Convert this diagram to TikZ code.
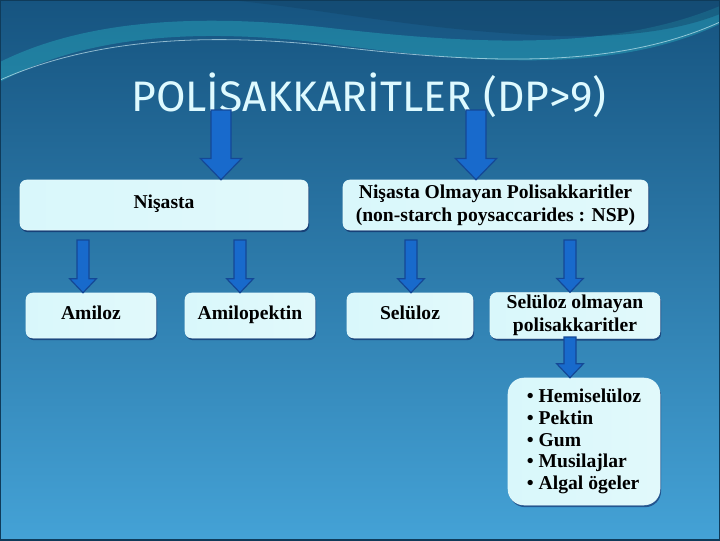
\documentclass[tikz,border=0pt]{standalone}
\usepackage{fontspec}
\setmainfont{Liberation Serif}
\newfontfamily\titlefont{Fira Sans}
\usepackage{tikz}
\usetikzlibrary{calc,shadows}

\definecolor{bgtop}{RGB}{22,84,128}
\definecolor{bgmid}{RGB}{42,122,172}
\definecolor{bgbot}{RGB}{68,162,214}
\definecolor{swoosh}{RGB}{40,170,190}
\definecolor{titlecyan}{RGB}{222,250,255}
\definecolor{boxcyan}{RGB}{170,238,245}
\definecolor{arrowblue}{RGB}{24,106,204}
\definecolor{arrowedge}{RGB}{20,72,150}

\tikzset{
  box/.style={rounded corners=5pt, left color=white!55!boxcyan, middle color=boxcyan, right color=white!65!boxcyan, draw=white!70!boxcyan, line width=0.4pt,
    drop shadow={shadow xshift=0.8pt, shadow yshift=-1.6pt, opacity=0.45, fill=black!75!blue},
    font=\bfseries\fontsize{14.7}{17}\selectfont, align=center, inner sep=2pt},
  oneline/.style={text height=1.5ex, text depth=0.25ex},
  arrowfill/.style={fill=arrowblue, draw=arrowedge, line width=0.9pt, line join=miter}
}

% block arrow: start, end, shaft half width, head half width, head length
\newcommand{\blockarr}[5]{%
  \filldraw[arrowfill] let \p1=(#1), \p2=(#2) in
    (\x1-#3,\y1) -- (\x1-#3,\y2+#5) -- (\x1-#4,\y2+#5) -- (\x1,\y2) -- (\x1+#4,\y2+#5) -- (\x1+#3,\y2+#5) -- (\x1+#3,\y1) -- cycle;}

\begin{document}
\begin{tikzpicture}[x=0.75pt,y=-0.75pt]
	\useasboundingbox (0,0) rectangle (720,540);
	
	%Background
	\shade[top color=bgtop, middle color=bgmid, bottom color=bgbot] (0,0) rectangle (720,540);
	%Shape: Swoosh
	\fill[swoosh, opacity=0.45] (0,82) .. controls (80,38) and (190,26) .. (330,44) .. controls (470,62) and (610,76) .. (720,24) -- (720,6) .. controls (610,52) and (470,44) .. (330,28) .. controls (190,12) and (80,22) .. (0,62) -- cycle ;
	\fill[bgtop!80!black, opacity=0.45] (230,0) .. controls (330,10) and (430,32) .. (560,36) .. controls (640,38) and (690,26) .. (720,14) -- (720,0) -- cycle ;
	\draw[titlecyan, opacity=0.6, line width=0.6pt] (0,80) .. controls (90,40) and (200,32) .. (330,46) .. controls (470,62) and (610,72) .. (720,22) ;
	\draw[bgtop!70!black, line width=1.2pt] (0,0) rectangle (720,540);
	
	% Text Node
	\node (title) at (369,95) [text=titlecyan, font=\titlefont\fontsize{32}{32}\selectfont] {POLİSAKKARİTLER (DP>9)};
	
	% Boxes
	\node (nis) at (164,205) [box, oneline, minimum width=216pt, minimum height=37.5pt] {Nişasta};
	\node (nsp) at (495.5,205) [box, minimum width=228.75pt, minimum height=37.5pt] {Nişasta Olmayan Polisakkaritler\\(non-starch poysaccarides : NSP)};
	\node (amiloz) at (91,315.5) [box, oneline, minimum width=97.5pt, minimum height=33.75pt] {Amiloz};
	\node (amilo) at (250,315.5) [box, oneline, minimum width=97.5pt, minimum height=33.75pt] {Amilopektin};
	\node (sel) at (410,315.5) [box, oneline, minimum width=94.5pt, minimum height=33.75pt] {Selüloz};
	\node (selo) at (575,315.5) [box, minimum width=127.5pt, minimum height=33.75pt] {Selüloz olmayan\\polisakkaritler};
	\node (list) at (584,441.5) [box, rounded corners=12pt, align=left, minimum width=114pt, minimum height=95.25pt, font=\bfseries\fontsize{14.7}{16.3}\selectfont] {\textbullet\ Hemiselüloz\\\textbullet\ Pektin\\\textbullet\ Gum\\\textbullet\ Musilajlar\\\textbullet\ Algal ögeler};
	
	% Arrow starts
	\coordinate (s1) at (221,110);
	\coordinate (s2) at (476,110);
	\coordinate (s3) at (83,240);
	\coordinate (s4) at (240,240);
	\coordinate (s5) at (411,240);
	\coordinate (s6) at (570,240);
	\coordinate (s7) at (570,337);
	
	% Arrows
	\blockarr{s1}{nis.north}{7.5pt}{15.5pt}{16pt}
	\blockarr{s2}{nsp.north}{7.5pt}{15.5pt}{16pt}
	\blockarr{s3}{amiloz.north}{4.5pt}{10pt}{10.5pt}
	\blockarr{s4}{amilo.north}{4.5pt}{10pt}{10.5pt}
	\blockarr{s5}{sel.north}{4.5pt}{10pt}{10.5pt}
	\blockarr{s6}{selo.north}{4.5pt}{10pt}{10.5pt}
	\blockarr{s7}{list.north}{4.5pt}{10pt}{10.5pt}
	
\end{tikzpicture}
\end{document}
